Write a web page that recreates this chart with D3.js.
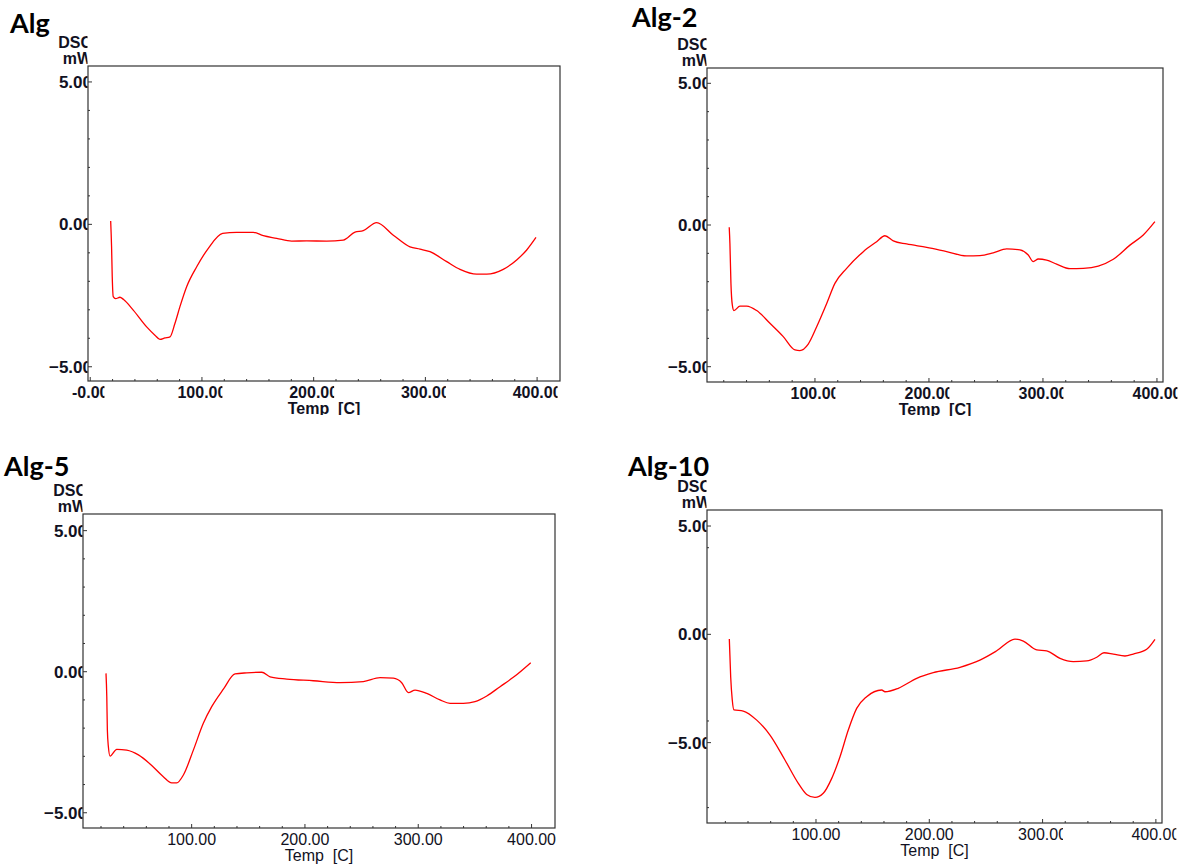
<!DOCTYPE html>
<html>
<head>
<meta charset="utf-8">
<script src="https://cdn.jsdelivr.net/npm/d3@7"></script>
<style>
  html, body { margin: 0; padding: 0; background: #fff; }
  svg { display: block; }
</style>
</head>
<body>
<div id="chart"></div>
<script>
// DSC curves, [temp C, heat flow mW]
const algData = [
  [18.3, 0.12], [19.1, -0.79], [19.7, -1.84], [20.6, -2.54], [22.7, -2.61], [26.6, -2.56],
  [29.6, -2.63], [38.5, -3.01], [50.5, -3.6], [57.9, -3.89], [62.4, -4.04], [66.9, -3.99],
  [71.4, -3.95], [75.8, -3.48], [80.3, -2.89], [86.3, -2.19], [95.3, -1.49], [105.7, -0.84],
  [118.5, -0.32], [131, -0.28], [146, -0.28], [154.9, -0.4], [166.9, -0.49], [180.3, -0.59],
  [193.7, -0.58], [211.6, -0.59], [226.5, -0.55], [237, -0.27], [244.4, -0.22], [256.4, 0.06],
  [271.3, -0.38], [286.2, -0.79], [295.2, -0.87], [304.1, -0.96], [319.1, -1.31], [331, -1.58],
  [345.9, -1.75], [354.9, -1.75], [369.7, -1.58], [381.7, -1.25], [390.7, -0.9], [399, -0.46]
];
const alg2Data = [
  [24.8, -0.08], [25.4, -0.65], [26.3, -2.06], [27.5, -2.82], [28.9, -3.02], [34.2, -2.86],
  [40.1, -2.86], [48.9, -3.02], [60.5, -3.47], [72.2, -3.94], [82.5, -4.41], [86.8, -4.43],
  [94.1, -4.2], [101.5, -3.59], [110.3, -2.77], [117.5, -2.06], [127.8, -1.53], [142.4, -0.94],
  [154.1, -0.59], [161.4, -0.38], [168.7, -0.56], [180.4, -0.67], [198, -0.79], [215.5, -0.94],
  [233.1, -1.09], [244.7, -1.08], [256.4, -0.98], [268.2, -0.84], [279.8, -0.88], [287.1, -1.06],
  [291.5, -1.29], [295.9, -1.2], [303.2, -1.24], [312, -1.38], [323.7, -1.54], [335.4, -1.53],
  [348.5, -1.45], [361.7, -1.21], [376.3, -0.71], [388, -0.35], [398.2, 0.12]
];
const alg5Data = [
  [24.4, -0.06], [25.1, -0.89], [25.6, -2.07], [26.5, -2.66], [28, -2.99], [33.9, -2.75],
  [42.7, -2.78], [53, -2.95], [63.3, -3.27], [75, -3.72], [82.4, -3.94], [86.8, -3.94],
  [92.7, -3.66], [101.5, -2.78], [110.3, -1.83], [117.7, -1.24], [128, -0.62], [138.3, -0.08],
  [148.6, -0.04], [161.9, -0.02], [169.2, -0.18], [183.9, -0.26], [207.4, -0.32], [231, -0.39],
  [251.5, -0.35], [266.3, -0.21], [278, -0.23], [285.4, -0.39], [291.3, -0.74], [297.2, -0.65],
  [307.5, -0.77], [319.2, -1.0], [328.1, -1.12], [339.8, -1.12], [350.1, -1.06], [360.5, -0.86],
  [372.2, -0.53], [383.9, -0.2], [399.3, 0.32]
];
const alg10Data = [
  [23.5, -0.22], [24.7, -1.96], [26.1, -3.03], [27.6, -3.49], [35.8, -3.54], [47.7, -3.96],
  [59.4, -4.65], [72.6, -5.8], [84.4, -6.88], [91.8, -7.39], [99.1, -7.53], [106.4, -7.34],
  [113.9, -6.65], [121.2, -5.65], [128.5, -4.42], [135.9, -3.42], [144.7, -2.88], [158, -2.57],
  [160.9, -2.65], [172.6, -2.49], [188.9, -2.03], [203.5, -1.77], [227.1, -1.52], [244.7, -1.19],
  [259.5, -0.76], [275.6, -0.22], [283, -0.31], [294.8, -0.72], [303.6, -0.76], [315.4, -1.11],
  [327.1, -1.26], [338.9, -1.23], [347.8, -1.06], [354.2, -0.85], [362.4, -0.91], [372.7, -1.0],
  [380, -0.91], [391.9, -0.69], [399.2, -0.23]
];

const titles = ['Alg', 'Alg-2', 'Alg-5', 'Alg-10'];
const yMajor = [5, 0, -5];
const yAxisTitle = ['DSC', 'mW'];
const xAxisTitle = 'Temp  [C]';

const W = 1190, H = 866;

const panels = [
  { title: titles[0], data: algData, box: {l: 88, t: 66, r: 560, b: 381},
    x: [-2, 420.5], y: [-5.50, 5.56], xMajor: [0, 100, 200, 300, 400], yMinorStep: 1,
    titlePos: [10, 33], bold: true, clipX: [0, 100, 200, 300, 400] },
  { title: titles[1], data: alg2Data, box: {l: 707, t: 68, r: 1163, b: 382},
    x: [5.3, 405.3], y: [-5.54, 5.54], xMajor: [100, 200, 300, 400], yMinorStep: 1,
    titlePos: [632, 27], bold: true, clipX: [100, 200, 300, 400] },
  { title: titles[2], data: alg5Data, box: {l: 83, t: 514, r: 555, b: 828},
    x: [4.1, 420.7], y: [-5.54, 5.59], xMajor: [100, 200, 300, 400], yMinorStep: 1,
    titlePos: [4, 476], bold: false, clipX: [] },
  { title: titles[3], data: alg10Data, box: {l: 707, t: 510, r: 1162, b: 823},
    x: [3.8, 405.4], y: [-8.71, 5.74], xMajor: [100, 200, 300, 400], yMinorStep: 4,
    titlePos: [628, 476], bold: false, clipX: [300, 400] }
];

const svg = d3.select('#chart').append('svg')
  .attr('width', W).attr('height', H)
  .attr('viewBox', `0 0 ${W} ${H}`);
svg.append('rect').attr('width', W).attr('height', H).attr('fill', '#fff');
const defs = svg.append('defs');

const labelFont = '"Liberation Sans", Arial, sans-serif';
const ink = '#111122';

panels.forEach((p, i) => {
  const {l, t, r, b} = p.box;
  const x = d3.scaleLinear().domain(p.x).range([l, r]);
  const y = d3.scaleLinear().domain(p.y).range([b, t]);
  const g = svg.append('g');

  // title
  g.append('text')
    .attr('x', p.titlePos[0]).attr('y', p.titlePos[1])
    .attr('font-family', 'Lato, "Open Sans", sans-serif')
    .attr('font-weight', 'bold').attr('font-size', 27)
    .attr('fill', '#000')
    .text(p.title);

  // clip for anything left of the y axis
  const leftClip = `left-clip-${i}`;
  defs.append('clipPath').attr('id', leftClip)
    .append('rect').attr('x', 0).attr('y', t - 60).attr('width', l - 0.5).attr('height', b - t + 80);

  // plot frame
  g.append('rect')
    .attr('x', l).attr('y', t).attr('width', r - l).attr('height', b - t)
    .attr('fill', 'none').attr('stroke', '#333').attr('stroke-width', 1.2);

  // x ticks (inward)
  const xMinor = d3.range(20, 420, 20).filter(v => v >= p.x[0] && v <= p.x[1] && !p.xMajor.includes(v));
  g.selectAll('.xmin').data(xMinor).join('line')
    .attr('x1', d => x(d)).attr('x2', d => x(d))
    .attr('y1', b).attr('y2', b - 2)
    .attr('stroke', '#333').attr('stroke-width', 1);
  g.selectAll('.xmaj').data(p.xMajor).join('line')
    .attr('x1', d => x(d)).attr('x2', d => x(d))
    .attr('y1', b).attr('y2', b - 4)
    .attr('stroke', '#333').attr('stroke-width', 1);

  // y ticks (inward)
  const yMinor = d3.range(-12, 12, p.yMinorStep)
    .filter(v => v > p.y[0] && v < p.y[1] && !yMajor.includes(v));
  g.selectAll('.ymin').data(yMinor).join('line')
    .attr('x1', l).attr('x2', l + 2)
    .attr('y1', d => y(d)).attr('y2', d => y(d))
    .attr('stroke', '#333').attr('stroke-width', 1);
  g.selectAll('.ymaj').data(yMajor).join('line')
    .attr('x1', l).attr('x2', l + 4)
    .attr('y1', d => y(d)).attr('y2', d => y(d))
    .attr('stroke', '#333').attr('stroke-width', 1);

  // y tick labels, cut at the axis like the instrument software does
  const yl = g.append('g').attr('clip-path', `url(#${leftClip})`);
  yl.selectAll('text').data(yMajor).join('text')
    .attr('x', l + 4).attr('y', d => y(d) + 6)
    .attr('text-anchor', 'end')
    .attr('font-family', labelFont).attr('font-weight', 'bold').attr('font-size', 17)
    .attr('fill', ink)
    .text(d => d3.format('.2f')(d));
  yl.selectAll('.yt').data(yAxisTitle).join('text')
    .attr('x', l + 4).attr('y', (d, k) => t - 18 + k * 16)
    .attr('text-anchor', 'end')
    .attr('font-family', labelFont).attr('font-weight', 'bold').attr('font-size', 16)
    .attr('fill', ink)
    .text(d => d);

  // x tick labels
  p.xMajor.forEach(v => {
    const txt = g.append('text')
      .attr('x', x(v)).attr('y', b + 17)
      .attr('text-anchor', 'middle')
      .attr('font-family', labelFont)
      .attr('font-weight', p.bold ? 'bold' : 'normal')
      .attr('font-size', 16)
      .attr('fill', ink)
      .text(v === 0 ? '-0.00' : d3.format('.2f')(v));
    if (p.clipX.includes(v)) {
      const w = txt.node().getComputedTextLength();
      const id = `xl-${i}-${v}`;
      defs.append('clipPath').attr('id', id)
        .append('rect').attr('x', x(v) - w / 2 - 5).attr('y', b + 1)
        .attr('width', w - 4 + 5).attr('height', 24);
      txt.attr('clip-path', `url(#${id})`);
    }
  });

  // x axis title
  const cx = (l + r) / 2;
  const tt = g.append('text')
    .attr('x', cx).attr('y', b + 33)
    .attr('text-anchor', 'middle')
    .attr('font-family', labelFont)
    .attr('font-weight', p.bold ? 'bold' : 'normal')
    .attr('font-size', 16)
    .attr('fill', ink)
    .attr('xml:space', 'preserve')
    .style('white-space', 'pre')
    .text(xAxisTitle);
  if (p.bold) {
    const id = `tt-${i}`;
    defs.append('clipPath').attr('id', id)
      .append('rect').attr('x', cx - 60).attr('y', b + 18).attr('width', 120).attr('height', 16);
    tt.attr('clip-path', `url(#${id})`);
  }

  // curve
  const line = d3.line()
    .x(d => x(d[0]))
    .y(d => y(d[1]))
    .curve(d3.curveMonotoneX);
  g.append('path')
    .datum(p.data)
    .attr('d', line)
    .attr('fill', 'none')
    .attr('stroke', '#ff0000')
    .attr('stroke-width', 1.3)
    .attr('stroke-linejoin', 'round');
});
</script>
</body>
</html>
